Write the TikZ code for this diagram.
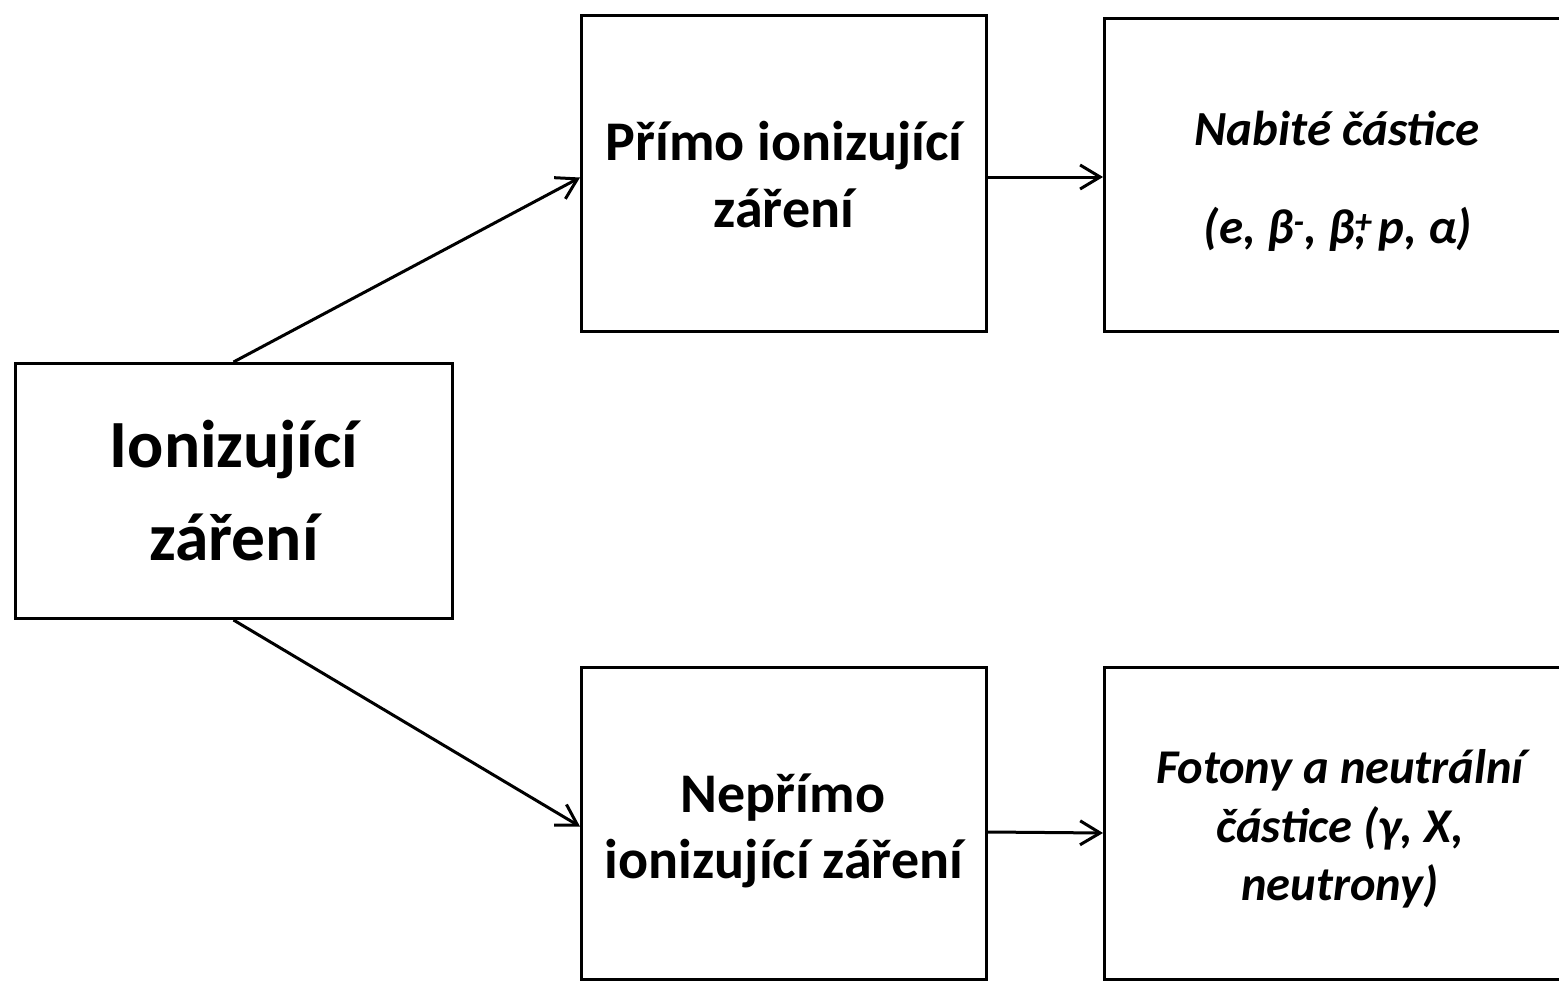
\documentclass[tikz,border=0pt]{standalone}
\usepackage{fontspec}
\setmainfont{Carlito}
\usetikzlibrary{arrows.meta,calc}
\begin{document}
\begin{tikzpicture}[x=1pt,y=-1pt,
  box/.style={draw=black, line width=3pt, rectangle, inner sep=0pt},
  bigtxt/.style={anchor=base, inner sep=0pt, font=\fontsize{67.5}{67.5}\selectfont\bfseries},
  midtxt/.style={anchor=base, inner sep=0pt, font=\fontsize{56}{56}\selectfont\bfseries},
  ittxt/.style={anchor=base, inner sep=0pt, font=\fontsize{49}{49}\selectfont\bfseries\itshape},
  itsmall/.style={anchor=base, inner sep=0pt, font=\fontsize{48.5}{48.5}\selectfont\bfseries\itshape},
  conn/.style={line width=3pt, -{Straight Barb[length=20pt,width=24pt]}}]
\useasboundingbox (0,0) rectangle (1559,982);
\clip (0,0) rectangle (1559,982);

% boxes
\node[box, minimum width=437pt, minimum height=255pt] (src) at (233.5,491) {};
\node[box, minimum width=405pt, minimum height=316pt] (pm) at (784,173.5) {};
\node[box, minimum width=471pt, minimum height=313pt] (tr) at (1340,175) {};
\node[box, minimum width=405pt, minimum height=312pt] (nm) at (784,823.5) {};
\node[box, minimum width=471pt, minimum height=312pt] (nr) at (1340,823.5) {};

% texts
\node[bigtxt] (srcA) at (234,467) {Ionizující};
\node[bigtxt] (srcB) at (234,560) {záření};

\node[midtxt] (pmA) at (784,160) {Přímo ionizující};
\node[midtxt] (pmB) at (784,227) {záření};

\node[midtxt] (nmA) at (783,812) {Nepřímo};
\node[midtxt] (nmB) at (784,878) {ionizující záření};

\node[ittxt] (trA) at (1337,145) {Nabité částice};
\node[ittxt] (trB) at (1338,243) {(e, β\textsuperscript{-}, β\rlap{\textsuperscript{+}}, p, α)};

\node[itsmall] (nrA) at (1340,783) {Fotony a neutrální};
\node[itsmall] (nrB) at (1340,842) {částice (γ, X,};
\node[itsmall] (nrC) at (1340,900) {neutrony)};

% connectors
\draw[conn] (src.north) -- ($(pm.west)+(0,4)$);
\draw[conn] (src.south) -- ($(nm.west)+(0,3)$);
\draw[conn] ($(pm.east)+(0,3.5)$) -- ($(tr.west)+(0,2)$);
\draw[conn] ($(nm.east)+(0,8.5)$) -- ($(nr.west)+(0,9.5)$);
\end{tikzpicture}
\end{document}
